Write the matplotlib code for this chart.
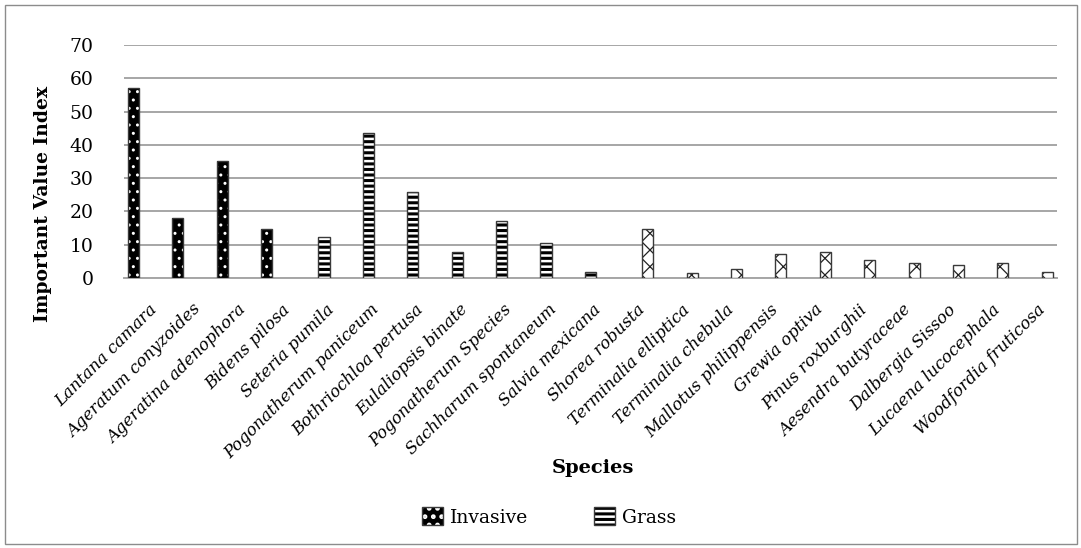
#!/usr/bin/env python3
"""Clustered bar chart: Important Value Index of invasive, grass and tree species."""
import matplotlib

matplotlib.use("Agg")
import matplotlib.pyplot as plt
from matplotlib.patches import Patch, Rectangle
from matplotlib.transforms import ScaledTranslation

invasive_species = ["Lantana camara", "Ageratum conyzoides", "Ageratina adenophora", "Bidens pilosa"]
invasive_ivi = [57.1, 18.0, 35.3, 14.8]

grass_species = ["Seteria pumila", "Pogonatherum paniceum", "Bothriochloa pertusa",
                 "Eulaliopsis binate", "Pogonatherum Species", "Sachharum spontaneum",
                 "Salvia mexicana"]
grass_ivi = [12.2, 43.6, 25.7, 7.9, 17.2, 10.5, 1.9]

tree_species = ["Shorea robusta", "Terminalia elliptica", "Terminalia chebula",
                "Mallotus philippensis", "Grewia optiva", "Pinus roxburghii",
                "Aesendra butyraceae", "Dalbergia Sissoo", "Lucaena lucocephala",
                "Woodfordia fruticosa"]
tree_ivi = [14.6, 1.4, 2.7, 7.1, 7.9, 5.4, 4.6, 3.9, 4.4, 1.7]

yticks = [0, 10, 20, 30, 40, 50, 60, 70]

FONT = "DejaVu Serif"
plt.rcParams["font.family"] = FONT

W, H = 1081, 548
fig = plt.figure(figsize=(W / 100, H / 100), dpi=100)
ax = fig.add_axes([124.2 / W, 1 - 278 / H, (1056.6 - 124.2) / W, (278 - 45) / H])

# outer chart border
fig.patches.append(Rectangle((4.5 / W, 4.5 / H), 1 - 9 / W, 1 - 9 / H, transform=fig.transFigure,
                             fill=False, edgecolor="#8c8c8c", linewidth=1.0))

species = invasive_species + grass_species + tree_species
n_inv, n_gr = len(invasive_species), len(grass_species)
x_inv = list(range(n_inv))
x_gr = list(range(n_inv, n_inv + n_gr))
x_tr = list(range(n_inv + n_gr, len(species)))

bw = 0.25
off = 0.29
edge = "#3a3a3a"


def set_hlw(patches, hlw):
    for p in patches:
        if hasattr(p, "set_hatch_linewidth"):
            p.set_hatch_linewidth(hlw)


def hatched_bars(xs, ys, face, hatch, hcolor, hlw):
    plt.rcParams["hatch.linewidth"] = hlw
    bars = ax.bar(xs, ys, width=bw, color=face, edgecolor=hcolor, hatch=hatch, linewidth=0, zorder=3)
    set_hlw(bars, hlw)
    ax.bar(xs, ys, width=bw, fill=False, edgecolor=edge, linewidth=1.0, zorder=4)
    return bars


hatched_bars([x - off for x in x_inv], invasive_ivi, "black", "..", "white", 1.0)
hatched_bars(x_gr, grass_ivi, "white", "---", "black", 2.2)
hatched_bars([x + off for x in x_tr], tree_ivi, "white", "xx", "#222222", 0.9)

ax.set_xlim(-0.5, len(species) - 0.5)
ax.set_ylim(0, 70)
ax.set_yticks(yticks)
ax.set_yticklabels([str(v) for v in yticks], fontsize=13.5)
ax.yaxis.grid(True, color="#a6a6a6", linewidth=1.4, zorder=0)
ax.set_axisbelow(True)
for s in ["top", "right", "left"]:
    ax.spines[s].set_visible(False)
ax.spines["bottom"].set_color("#a6a6a6")
ax.spines["bottom"].set_linewidth(1.4)
ax.tick_params(axis="both", length=0)
ax.tick_params(axis="y", pad=22)

ax.set_xticks(range(len(species)))
ax.set_xticklabels(species, rotation=45, ha="right", va="center", rotation_mode="anchor",
                   fontsize=12, style="italic")
ax.tick_params(axis="x", pad=21)
shift = ScaledTranslation(8 / 100, 0, fig.dpi_scale_trans)
for lab in ax.get_xticklabels():
    lab.set_transform(lab.get_transform() + shift)

fig.text(43 / W, 1 - 204 / H, "Important Value Index", rotation=90, ha="center", va="center",
         fontsize=13.5, fontweight="bold")
fig.text(593 / W, 1 - 468 / H, "Species", ha="center", va="center", fontsize=14, fontweight="bold")

# legend handles: hatch layer + dark outline overlaid
inv_fill = Patch(facecolor="black", edgecolor="white", hatch="..", linewidth=0)
gr_fill = Patch(facecolor="white", edgecolor="black", hatch="---", linewidth=0)
set_hlw([inv_fill], 1.0)
set_hlw([gr_fill], 2.2)
outline = Patch(fill=False, edgecolor=edge, linewidth=1.0)
plt.rcParams["hatch.linewidth"] = 2.2
fig.legend(handles=[(inv_fill, outline), (gr_fill, outline)], labels=["Invasive", "Grass"],
           loc="center", bbox_to_anchor=(549 / W, 1 - 517 / H), ncol=2,
           frameon=False, fontsize=13.5, handlelength=1.1, handleheight=1.1,
           columnspacing=3.5, handletextpad=0.4)

fig.savefig("out.png", dpi=100)
